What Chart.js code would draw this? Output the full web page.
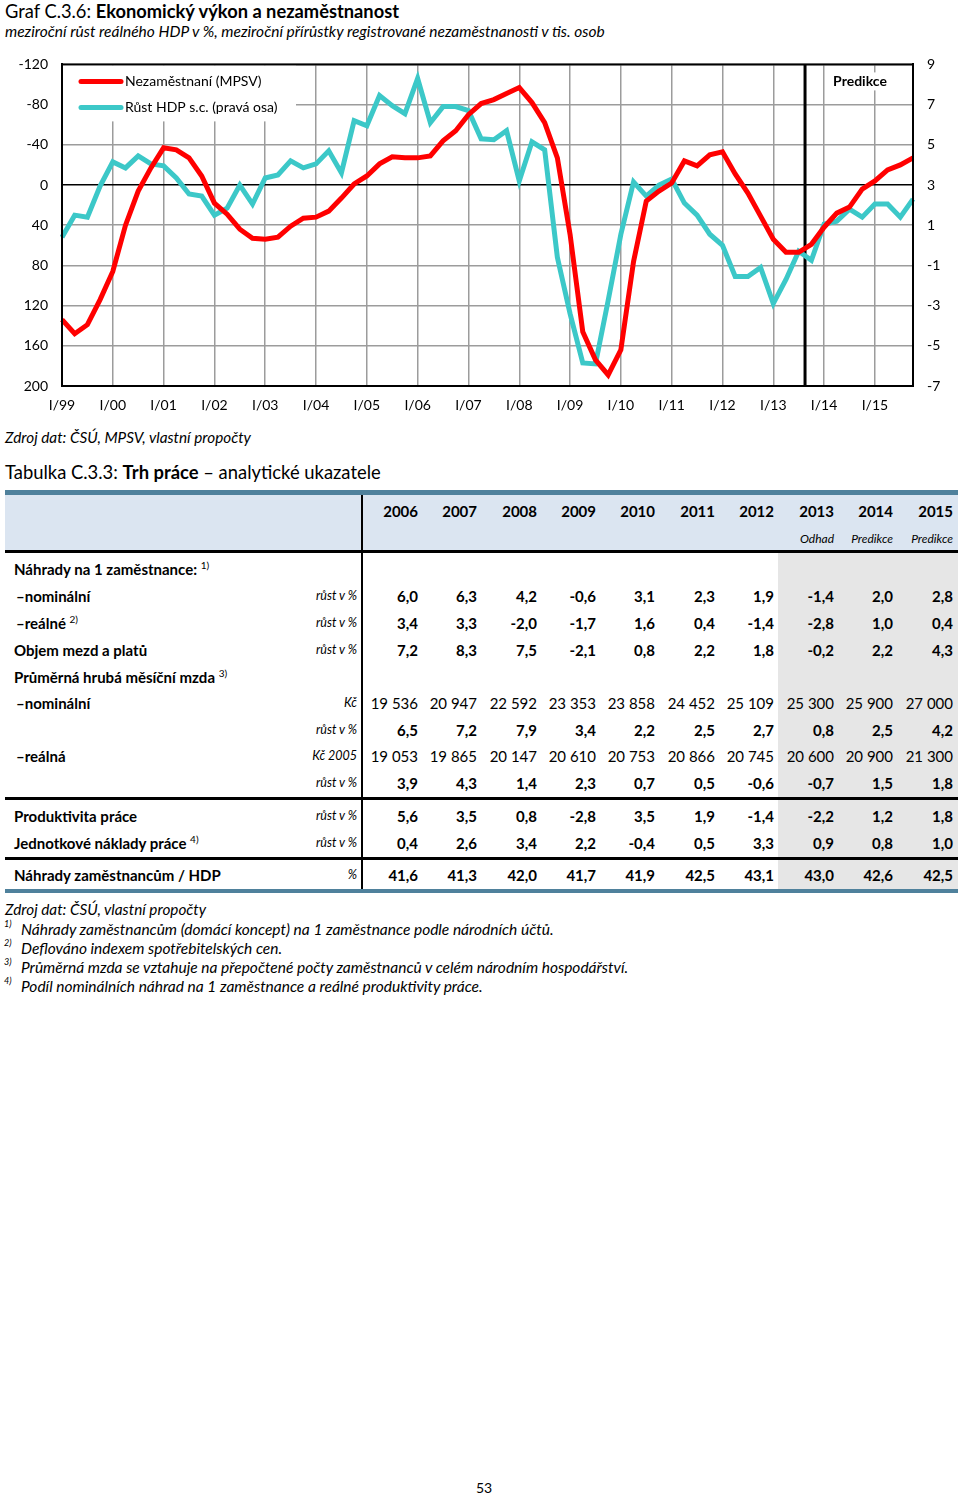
<!DOCTYPE html>
<html>
<head>
<meta charset="utf-8">
<script src="https://cdn.jsdelivr.net/npm/chart.js@4.4.1/dist/chart.umd.min.js"></script>
<style>
body{margin:0;background:#fff;font-family:Lato,"Noto Sans",sans-serif;color:#000;}
#page{position:relative;width:960px;height:1496px;overflow:hidden;}
.t{position:absolute;white-space:nowrap;}
.box{position:absolute;}
#chartWrap{position:absolute;left:0;top:42px;width:960px;height:378px;}
#chartWrap canvas{display:block;}
sup{font-size:10px;font-weight:normal;line-height:0;}
</style>
</head>
<body>
<div id="page">
  <div class="t" style="left:5px;top:0px;font-size:18.3px;">Graf C.3.6: <b>Ekonomický výkon a nezaměstnanost</b></div>
  <div class="t" style="left:5px;top:22px;font-size:15.5px;font-style:italic;">meziroční růst reálného HDP v %, meziroční přírůstky registrované nezaměstnanosti v tis. osob</div>
  <div id="chartWrap"><canvas id="myChart" width="960" height="378"></canvas></div>
  <div class="t" style="left:5px;top:428px;font-size:15.3px;font-style:italic;">Zdroj dat: ČSÚ, MPSV, vlastní propočty</div>
  <div class="t" style="left:5px;top:461px;font-size:18.4px;">Tabulka C.3.3: <b>Trh práce</b> – analytické ukazatele</div>
  <div id="table"></div>
  <div class="t" style="left:476px;top:1479px;font-size:14px;">53</div>
</div>
<script>
// chart data
const years = ['99','00','01','02','03','04','05','06','07','08','09','10','11','12','13','14','15'];
const qNames = ['I','II','III','IV'];
const quarters = [];
years.forEach(y => qNames.forEach(q => quarters.push(q + '/' + y)));

// nezamestnanost, mezirocni prirustek v tis. osob (leva osa, obracena)
const unemployment = [134, 148, 139, 114, 86, 40, 6, -17, -37, -35, -27, -9, 18, 29, 44, 53, 54,
  52, 41, 33, 32, 26, 13, -1, -9, -21, -28, -27, -27, -29, -44, -54, -70, -81,
  -85, -91, -97, -82, -62, -27, 49, 146, 174, 189, 164, 76, 16, 6, -2, -24, -19,
  -30, -33, -11, 8, 31, 54, 67, 67, 59, 42, 28, 22, 4, -4, -15, -20, -27];

// rust HDP s.c. v % (prava osa)
const gdpGrowth = [0.4, 1.5, 1.4, 2.95, 4.15, 3.85, 4.45, 4.05, 3.95, 3.35, 2.55, 2.45, 1.5, 1.85, 3.0, 2.05, 3.35,
  3.5, 4.2, 3.85, 4.05, 4.7, 3.6, 6.2, 5.95, 7.45, 6.95, 6.55, 8.3, 6.1, 6.9, 6.9, 6.7, 5.3,
  5.25, 5.7, 3.2, 5.15, 4.75, -0.6, -3.4, -5.85, -5.9, -2.75, 0.55, 3.15, 2.45, 3.0, 3.3, 2.1, 1.5,
  0.55, 0.0, -1.55, -1.55, -1.1, -2.9, -1.7, -0.3, -0.75, 1.05, 1.2, 1.8, 1.4, 2.05, 2.05, 1.4, 2.3];

const seriesNames = ['Nezaměstnaní (MPSV)', 'Růst HDP s.c. (pravá osa)'];
const predictionStart = 'III/13'; // svisla cara za timto ctvrtletim

const red = '#ff0000';
const teal = '#3cc8c8';
const gridGrey = '#9c9c9c';

const frame = {
  id: 'frame',
  beforeDatasetsDraw(chart) {
    const c = chart.ctx, a = chart.chartArea, xs = chart.scales.x;
    // legenda s bilym pozadim
    c.save();
    c.fillStyle = '#fff';
    c.fillRect(a.left + 1, a.top + 1, 233, 56);
    c.font = '14px Lato';
    c.textBaseline = 'middle';
    [[red, 17], [teal, 43]].forEach((s, i) => {
      c.strokeStyle = s[0];
      c.lineWidth = 5;
      c.lineCap = 'round';
      c.beginPath();
      c.moveTo(a.left + 19, a.top + s[1]);
      c.lineTo(a.left + 59, a.top + s[1]);
      c.stroke();
      c.fillStyle = '#000';
      c.fillText(seriesNames[i], a.left + 63, a.top + s[1]);
    });
    // predikce
    const i0 = quarters.indexOf(predictionStart);
    const px = (xs.getPixelForValue(i0) + xs.getPixelForValue(i0 + 1)) / 2;
    c.fillStyle = '#fff';
    c.fillRect(px + 20, a.top + 8, 70, 18);
    c.fillStyle = '#000';
    c.font = 'bold 14px Lato';
    c.textAlign = 'center';
    c.fillText('Predikce', 860, a.top + 17);
    c.strokeStyle = '#000';
    c.lineWidth = 3;
    c.lineCap = 'butt';
    c.beginPath();
    c.moveTo(px, a.top);
    c.lineTo(px, a.bottom);
    c.stroke();
    c.restore();
  },
  afterDraw(chart) {
    const c = chart.ctx, a = chart.chartArea;
    c.save();
    c.strokeStyle = '#000';
    c.lineWidth = 2;
    c.strokeRect(a.left, a.top, a.right - a.left, a.bottom - a.top);
    c.restore();
  }
};

const data = {
  labels: quarters,
  datasets: [{
    label: seriesNames[0],
    data: unemployment,
    borderColor: red,
    backgroundColor: red,
    borderWidth: 5,
    pointRadius: 0,
    tension: 0,
    yAxisID: 'y'
  }, {
    label: seriesNames[1],
    data: gdpGrowth,
    borderColor: teal,
    backgroundColor: teal,
    borderWidth: 5,
    pointRadius: 0,
    tension: 0,
    yAxisID: 'y2'
  }]
};

const config = {
  type: 'line',
  data: data,
  plugins: [frame],
  options: {
    responsive: false,
    animation: false,
    devicePixelRatio: 1,
    layout: {padding: {top: 6, left: 0, right: 0, bottom: 0}},
    plugins: {legend: {display: false}, tooltip: {enabled: false}},
    scales: {
      x: {
        afterFit(s) { s.height = 34; },
        grid: {
          drawTicks: false,
          lineWidth: 1.5,
          color: ctx => (ctx.index % 4 === 0 ? gridGrey : 'rgba(0,0,0,0)')
        },
        border: {color: '#000', width: 2},
        ticks: {
          autoSkip: false, maxRotation: 0, padding: 11, color: '#000',
          font: {family: 'Lato', size: 14},
          callback: function(v, i) { return i % 4 === 0 ? quarters[i] : ''; }
        }
      },
      y: {
        position: 'left',
        reverse: true,
        min: -120, max: 200,
        afterFit(s) { s.width = 62; },
        grid: {
          drawTicks: false,
          lineWidth: 1.5,
          color: ctx => (ctx.tick && ctx.tick.value === 0 ? '#000' : gridGrey)
        },
        border: {color: '#000', width: 2},
        ticks: {stepSize: 40, padding: 14, color: '#000', font: {family: 'Lato', size: 14}}
      },
      y2: {
        position: 'right',
        min: -7, max: 9,
        afterFit(s) { s.width = 47; },
        grid: {display: false, drawTicks: false},
        border: {color: '#000', width: 2},
        ticks: {stepSize: 2, padding: 14, color: '#000', font: {family: 'Lato', size: 14}}
      }
    }
  }
};

var ctx = document.getElementById('myChart');
var mychart = new Chart(ctx, config);

// tabulka
const tableYears = ['2006','2007','2008','2009','2010','2011','2012','2013','2014','2015'];
const tableNotes = ['','','','','','','','Odhad','Predikce','Predikce'];
const colRight = [418, 477, 537, 596, 655, 715, 774, 834, 893, 953];
const rowLabels = ['Náhrady na 1 zaměstnance:', '–nominální', '–reálné', 'Objem mezd a platů',
  'Průměrná hrubá měsíční mzda', '–nominální', '', '–reálná', '', 'Produktivita práce',
  'Jednotkové náklady práce', 'Náhrady zaměstnancům / HDP'];
const rowSup = ['1)', '', '2)', '', '3)', '', '', '', '', '', '4)', ''];
const rowUnits = ['', 'růst v %', 'růst v %', 'růst v %', '', 'Kč', 'růst v %', 'Kč 2005', 'růst v %',
  'růst v %', 'růst v %', '%'];
const rowY = [569, 596, 623, 650, 677, 703, 730, 756, 783, 816, 843, 875];
const nominalComp = ['6,0','6,3','4,2','-0,6','3,1','2,3','1,9','-1,4','2,0','2,8'];
const realComp = ['3,4','3,3','-2,0','-1,7','1,6','0,4','-1,4','-2,8','1,0','0,4'];
const wageBill = ['7,2','8,3','7,5','-2,1','0,8','2,2','1,8','-0,2','2,2','4,3'];
const wageNomCzk = ['19 536','20 947','22 592','23 353','23 858','24 452','25 109','25 300','25 900','27 000'];
const wageNomGrowth = ['6,5','7,2','7,9','3,4','2,2','2,5','2,7','0,8','2,5','4,2'];
const wageRealCzk = ['19 053','19 865','20 147','20 610','20 753','20 866','20 745','20 600','20 900','21 300'];
const wageRealGrowth = ['3,9','4,3','1,4','2,3','0,7','0,5','-0,6','-0,7','1,5','1,8'];
const productivity = ['5,6','3,5','0,8','-2,8','3,5','1,9','-1,4','-2,2','1,2','1,8'];
const unitLabourCost = ['0,4','2,6','3,4','2,2','-0,4','0,5','3,3','0,9','0,8','1,0'];
const compToGdp = ['41,6','41,3','42,0','41,7','41,9','42,5','43,1','43,0','42,6','42,5'];
const rowValues = [null, nominalComp, realComp, wageBill, null, wageNomCzk, wageNomGrowth,
  wageRealCzk, wageRealGrowth, productivity, unitLabourCost, compToGdp];

let h = '';
h += '<div class="box" style="left:778px;top:553px;width:180px;height:336px;background:#e6e6e6"></div>';
h += '<div class="box" style="left:5px;top:490px;width:953px;height:5px;background:#4f819c"></div>';
h += '<div class="box" style="left:5px;top:495px;width:953px;height:55px;background:#dbe5f1"></div>';
h += '<div class="box" style="left:5px;top:550px;width:953px;height:3px;background:#000"></div>';
h += '<div class="box" style="left:5px;top:797px;width:953px;height:2.5px;background:#000"></div>';
h += '<div class="box" style="left:5px;top:857px;width:953px;height:2.5px;background:#000"></div>';
h += '<div class="box" style="left:5px;top:889px;width:953px;height:4px;background:#4f819c"></div>';
h += '<div class="box" style="left:361px;top:495px;width:2px;height:394px;background:#000"></div>';
tableYears.forEach((y, i) => {
  h += '<div class="t" style="left:' + (colRight[i] - 60) + 'px;width:60px;text-align:right;top:502px;font-size:15px;font-weight:bold;">' + y + '</div>';
  if (tableNotes[i]) h += '<div class="t" style="left:' + (colRight[i] - 60) + 'px;width:60px;text-align:right;top:531px;font-size:12px;font-style:italic;">' + tableNotes[i] + '</div>';
});
rowLabels.forEach((lab, r) => {
  const top = rowY[r] - 10;
  const left = lab.charAt(0) === '–' ? 16 : 14;
  if (lab) h += '<div class="t" style="left:' + left + 'px;top:' + top + 'px;font-size:15px;font-weight:bold;line-height:20px">' + lab + (rowSup[r] ? ' <sup>' + rowSup[r] + '</sup>' : '') + '</div>';
  if (rowUnits[r]) h += '<div class="t" style="left:237px;width:120px;text-align:right;top:' + (top + 1) + 'px;font-size:12.5px;font-style:italic;line-height:18px">' + rowUnits[r] + '</div>';
  const vals = rowValues[r];
  if (vals) vals.forEach((v, i) => {
    const bold = rowUnits[r].indexOf('Kč') === 0 ? 'normal' : 'bold';
    h += '<div class="t" style="left:' + (colRight[i] - 60) + 'px;width:60px;text-align:right;top:' + top + 'px;font-size:15px;font-weight:' + bold + ';line-height:20px">' + v + '</div>';
  });
});
const notes = ['Náhrady zaměstnancům (domácí koncept) na 1 zaměstnance podle národních účtů.',
  'Deflováno indexem spotřebitelských cen.',
  'Průměrná mzda se vztahuje na přepočtené počty zaměstnanců v celém národním hospodářství.',
  'Podíl nominálních náhrad na 1 zaměstnance a reálné produktivity práce.'];
h += '<div class="t" style="left:5px;top:900px;font-size:15.3px;font-style:italic;">Zdroj dat: ČSÚ, vlastní propočty</div>';
notes.forEach((n, i) => {
  const top = 920 + i * 19;
  h += '<div class="t" style="left:4px;top:' + (top - 2) + 'px;font-size:9px;font-style:italic;">' + (i + 1) + ')</div>';
  h += '<div class="t" style="left:21px;top:' + top + 'px;font-size:15.5px;font-style:italic;">' + n + '</div>';
});
document.getElementById('table').innerHTML = h;
</script>
</body>
</html>
